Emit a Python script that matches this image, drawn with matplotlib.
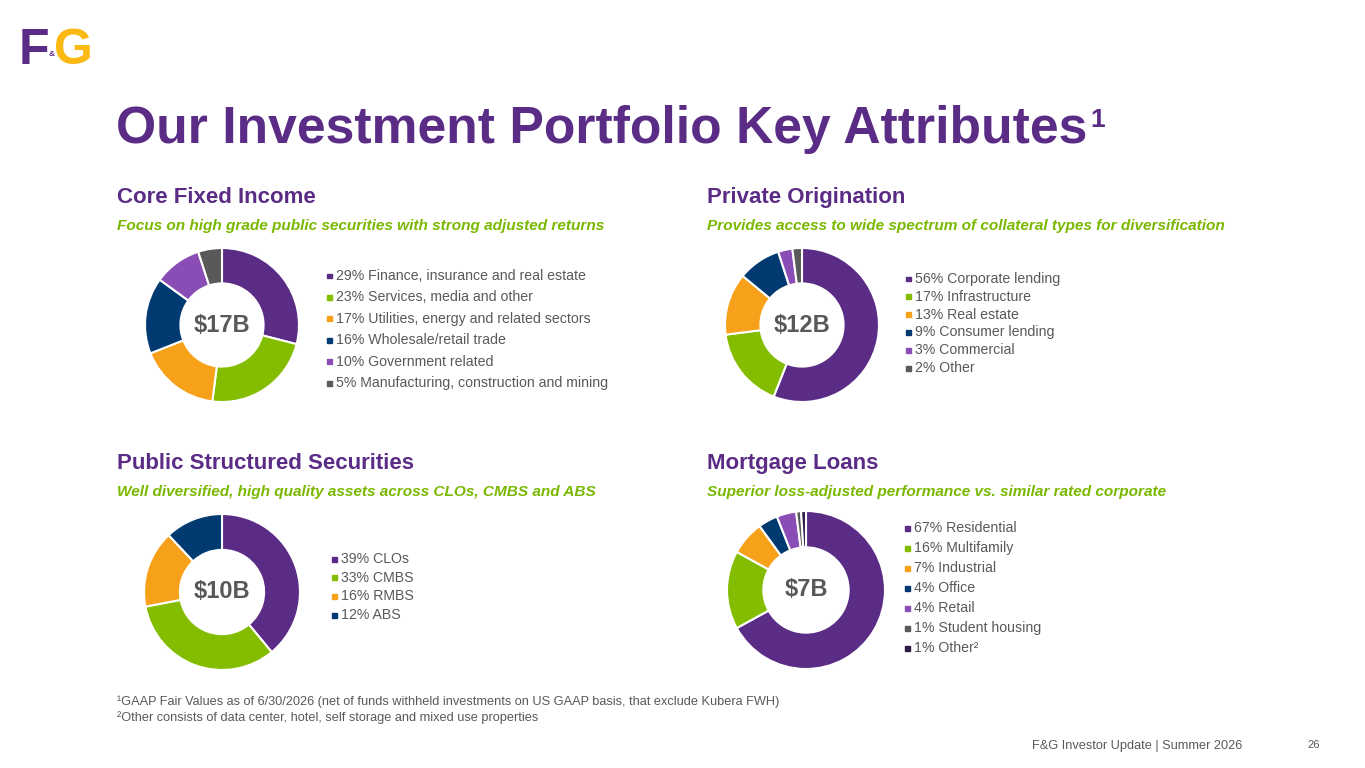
import matplotlib
matplotlib.use('Agg')
import matplotlib.pyplot as plt
from matplotlib.patches import Rectangle

plt.rcParams['font.family'] = ['Liberation Sans', 'DejaVu Sans']

PURPLE = '#5B2C86'
GREEN = '#84BD00'
ORANGE = '#F7A11A'
NAVY = '#003A70'
LILAC = '#8A4DB5'
GRAY = '#595959'
DARK = '#2D1C45'
TEXT = '#595959'

# data
core_pct = [29, 23, 17, 16, 10, 5]
core_names = ['Finance, insurance and real estate', 'Services, media and other',
              'Utilities, energy and related sectors', 'Wholesale/retail trade',
              'Government related', 'Manufacturing, construction and mining']
core_total = '$17B'

priv_pct = [56, 17, 13, 9, 3, 2]
priv_names = ['Corporate lending', 'Infrastructure', 'Real estate',
              'Consumer lending', 'Commercial', 'Other']
priv_total = '$12B'

pub_pct = [39, 33, 16, 12]
pub_names = ['CLOs', 'CMBS', 'RMBS', 'ABS']
pub_total = '$10B'

mort_pct = [67, 16, 7, 4, 4, 1, 1]
mort_names = ['Residential', 'Multifamily', 'Industrial', 'Office', 'Retail',
              'Student housing', 'Other\u00b2']
mort_total = '$7B'

six_colors = [PURPLE, GREEN, ORANGE, NAVY, LILAC, GRAY]
four_colors = [PURPLE, GREEN, ORANGE, NAVY]
seven_colors = [PURPLE, GREEN, ORANGE, NAVY, LILAC, GRAY, DARK]

W, H = 1365, 768
fig = plt.figure(figsize=(13.65, 7.68), dpi=100)


def fx(x):
    return x / W


def fy(y):
    return 1 - y / H


def donut(cx, cy, r, values, colors, label):
    ax = fig.add_axes([fx(cx - r), fy(cy + r), 2 * r / W, 2 * r / H])
    wedges, _ = ax.pie(values, colors=colors, startangle=90, counterclock=False,
                       radius=1, wedgeprops=dict(width=0.46, edgecolor='white', linewidth=1.5))
    for w in wedges:
        w.set_clip_on(False)
    ax.set_xlim(-1, 1)
    ax.set_ylim(-1, 1)
    ax.set_aspect('equal')
    ax.axis('off')
    ax.text(0, 0, label, ha='center', va='center', fontsize=17, fontweight='bold', color=TEXT)


def legend(x, y0, step, pcts, names, colors):
    for i, (p, n, c) in enumerate(zip(pcts, names, colors)):
        y = y0 + i * step
        fig.patches.append(Rectangle((fx(x - 2.5), fy(y + 2.5)), 5 / W, 5 / H,
                                     transform=fig.transFigure, color=c))
        fig.text(fx(x + 7), fy(y), f'{p}% {n}', fontsize=10.2, color=TEXT, va='center')


def section(x, y, title, sub):
    fig.text(fx(x), fy(y), title, fontsize=16, fontweight='bold', color=PURPLE, va='baseline')
    fig.text(fx(x), fy(y + 27), sub, fontsize=11.1, fontweight='bold', fontstyle='italic',
             color='#7AB800', va='baseline')


renderer = fig.canvas.get_renderer()

# logo
f_txt = fig.text(fx(19), fy(64), 'F', fontsize=36, fontweight='heavy', color=PURPLE, va='baseline')
fb = f_txt.get_window_extent(renderer)
amp = fig.text(fb.x1 / W - 0.001, fy(56), '&', fontsize=6, fontweight='bold', color=PURPLE, va='baseline')
ab = amp.get_window_extent(renderer)
fig.text(ab.x1 / W, fy(64), 'G', fontsize=36, fontweight='heavy', color='#FDB913', va='baseline')

# title
t = fig.text(fx(116), fy(143), 'Our Investment Portfolio Key Attributes', fontsize=37.2,
             fontweight='bold', color=PURPLE, va='baseline')
bb = t.get_window_extent(renderer)
fig.text(bb.x1 / W + 0.002, fy(127), '1', fontsize=19, fontweight='bold', color=PURPLE, va='baseline')

section(117, 203, 'Core Fixed Income', 'Focus on high grade public securities with strong adjusted returns')
section(707, 203, 'Private Origination', 'Provides access to wide spectrum of collateral types for diversification')
section(117, 469, 'Public Structured Securities', 'Well diversified, high quality assets across CLOs, CMBS and ABS')
section(707, 469, 'Mortgage Loans', 'Superior loss-adjusted performance vs. similar rated corporate')

donut(222, 325, 77, core_pct, six_colors, core_total)
legend(329, 276, 21.4, core_pct, core_names, six_colors)

donut(802, 325, 77, priv_pct, six_colors, priv_total)
legend(908, 279, 17.8, priv_pct, priv_names, six_colors)

donut(222, 592, 78, pub_pct, four_colors, pub_total)
legend(334, 559, 18.7, pub_pct, pub_names, four_colors)

donut(806, 590, 79, mort_pct, seven_colors, mort_total)
legend(907, 528, 20, mort_pct, mort_names, seven_colors)

# footnotes
fig.text(fx(117), fy(702), '\u00b9GAAP Fair Values as of 6/30/2026 (net of funds withheld investments on US GAAP basis, that exclude Kubera FWH)',
         fontsize=9.2, color=TEXT, va='center')
fig.text(fx(117), fy(718), '\u00b2Other consists of data center, hotel, self storage and mixed use properties',
         fontsize=9.2, color=TEXT, va='center')
fig.text(fx(1032), fy(746), 'F&G Investor Update | Summer 2026', fontsize=9.2, color=TEXT, va='center')
fig.text(fx(1307), fy(745), '26', fontsize=8, color=TEXT, va='center')

fig.savefig('out.png', dpi=100, facecolor='white')
